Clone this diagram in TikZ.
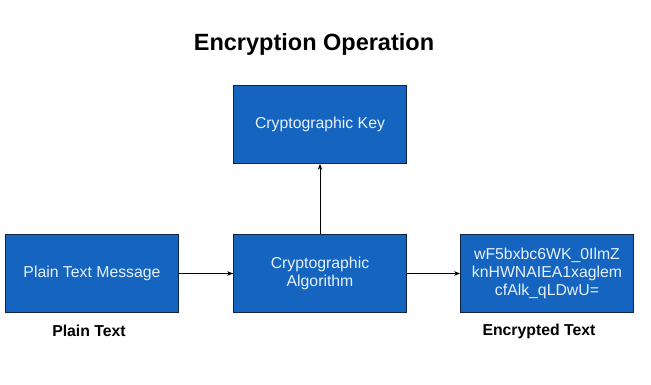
\documentclass[tikz,border=0pt]{standalone}
\usepackage{fontspec}
\setmainfont{Liberation Sans}
\usetikzlibrary{arrows.meta}
\definecolor{boxblue}{HTML}{1565C0}
\definecolor{boxline}{HTML}{10253F}
\definecolor{boxtext}{HTML}{E6F1FB}
\begin{document}
\begin{tikzpicture}[x=1pt,y=-1pt,
  bluebox/.style={draw=boxline, line width=0.7pt, fill=boxblue, text=boxtext,
    minimum width=173pt, minimum height=78pt, inner sep=0pt, align=center,
    font=\fontsize{15.8}{18.4}\selectfont},
  caption/.style={font=\fontsize{15.8}{18}\selectfont\bfseries, text=black},
  conn/.style={-{Stealth[length=6pt,width=4.5pt]}, line width=0.8pt, black}]
\useasboundingbox (0,0) rectangle (651,384);
\node[font=\fontsize{23.5}{26}\selectfont\bfseries] (title) at (314,44) {Encryption Operation};
\node[bluebox] (key) at (320,124.5) {Cryptographic Key};
\node[bluebox] (plain) at (92,273.5) {Plain Text Message};
\node[bluebox] (algo) at (320,273.5) {Cryptographic\\Algorithm};
\node[bluebox] (enc) at (547,273.5) {wF5bxbc6WK\_0IlmZ\\knHWNAIEA1xaglem\\cfAlk\_qLDwU=};
\node[caption] (lplain) at (89,331) {Plain Text};
\node[caption] (lenc) at (539,331) {Encrypted Text};
\draw[conn] (plain) -- (algo);
\draw[conn] (algo) -- (enc);
\draw[conn] (algo) -- (key);
\end{tikzpicture}
\end{document}
